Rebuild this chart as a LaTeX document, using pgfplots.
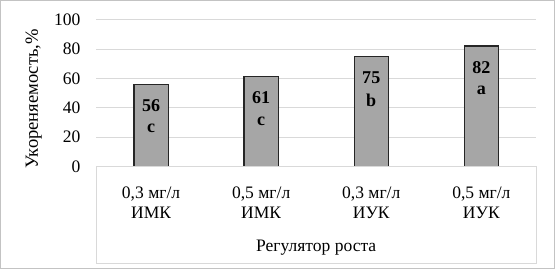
\documentclass[border=0pt]{standalone}
\usepackage{pgfplots}
\pgfplotsset{compat=1.18}
\usepackage{fontspec}
\setmainfont{Liberation Serif}
\definecolor{barfill}{RGB}{166,166,166}
\definecolor{gridc}{RGB}{217,217,217}
\begin{document}
\begin{tikzpicture}[x=1bp,y=1bp]
\begin{axis}[
  name=ax,
  at={(0,0)}, anchor=south west,
  scale only axis,
  width=438bp, height=146bp,
  xmin=-0.5, xmax=3.5,
  ymin=0, ymax=100,
  ytick={0,20,40,60,80,100},
  xtick={0,1,2,3},
  xticklabels={{0,3 мг/л\\ИМК},{0,5 мг/л\\ИМК},{0,3 мг/л\\ИУК},{0,5 мг/л\\ИУК}},
  xticklabel style={align=center, font=\fontsize{17.5}{20}\selectfont, yshift=-17bp},
  yticklabel style={font=\fontsize{17.5}{20}\selectfont, xshift=-12bp},
  /pgf/number format/assume math mode=true,
  major tick length=0pt,
  axis line style={draw=none},
  ymajorgrids, grid style={gridc, line width=0.9bp},
  xlabel={Регулятор роста},
  ylabel={Укореняемость,\%},
  xlabel style={font=\fontsize{17.5}{20}\selectfont, at={(axis description cs:0.5,-0.555)}, anchor=center},
  ylabel style={font=\fontsize{18.5}{20}\selectfont, at={(axis description cs:-0.1416,0.46)}, anchor=center, rotate=0},
  clip=false,
]
\addplot[ybar, bar width=34bp, bar shift=0pt, fill=barfill, draw=black!85, line width=1.2bp,
  nodes near coords={\textbf{\pgfmathprintnumber{\pgfplotspointmeta}}},
  nodes near coords style={anchor=center, yshift=-21bp, font=\fontsize{18}{20}\selectfont, text=black}]
  coordinates {(0,56) (1,61) (2,75) (3,82)};
\addplot[draw=none, mark=none, point meta=explicit symbolic,
  nodes near coords,
  nodes near coords style={anchor=center, yshift=-44bp, font=\bfseries\fontsize{18}{20}\selectfont, text=black}]
  coordinates {(0,56)[c] (1,61)[c] (2,75)[b] (3,82)[a]};
\end{axis}
\draw[gridc, line width=0.9bp] (ax.south west) -- ++(0,-97bp) -- ([yshift=-97bp]ax.south east) -- (ax.south east) -- cycle;
\draw[gridc!90!black, line width=1bp] ([xshift=-95bp,yshift=-102bp]ax.south west) rectangle ([xshift=18bp,yshift=19bp]ax.north east);
\end{tikzpicture}
\end{document}
